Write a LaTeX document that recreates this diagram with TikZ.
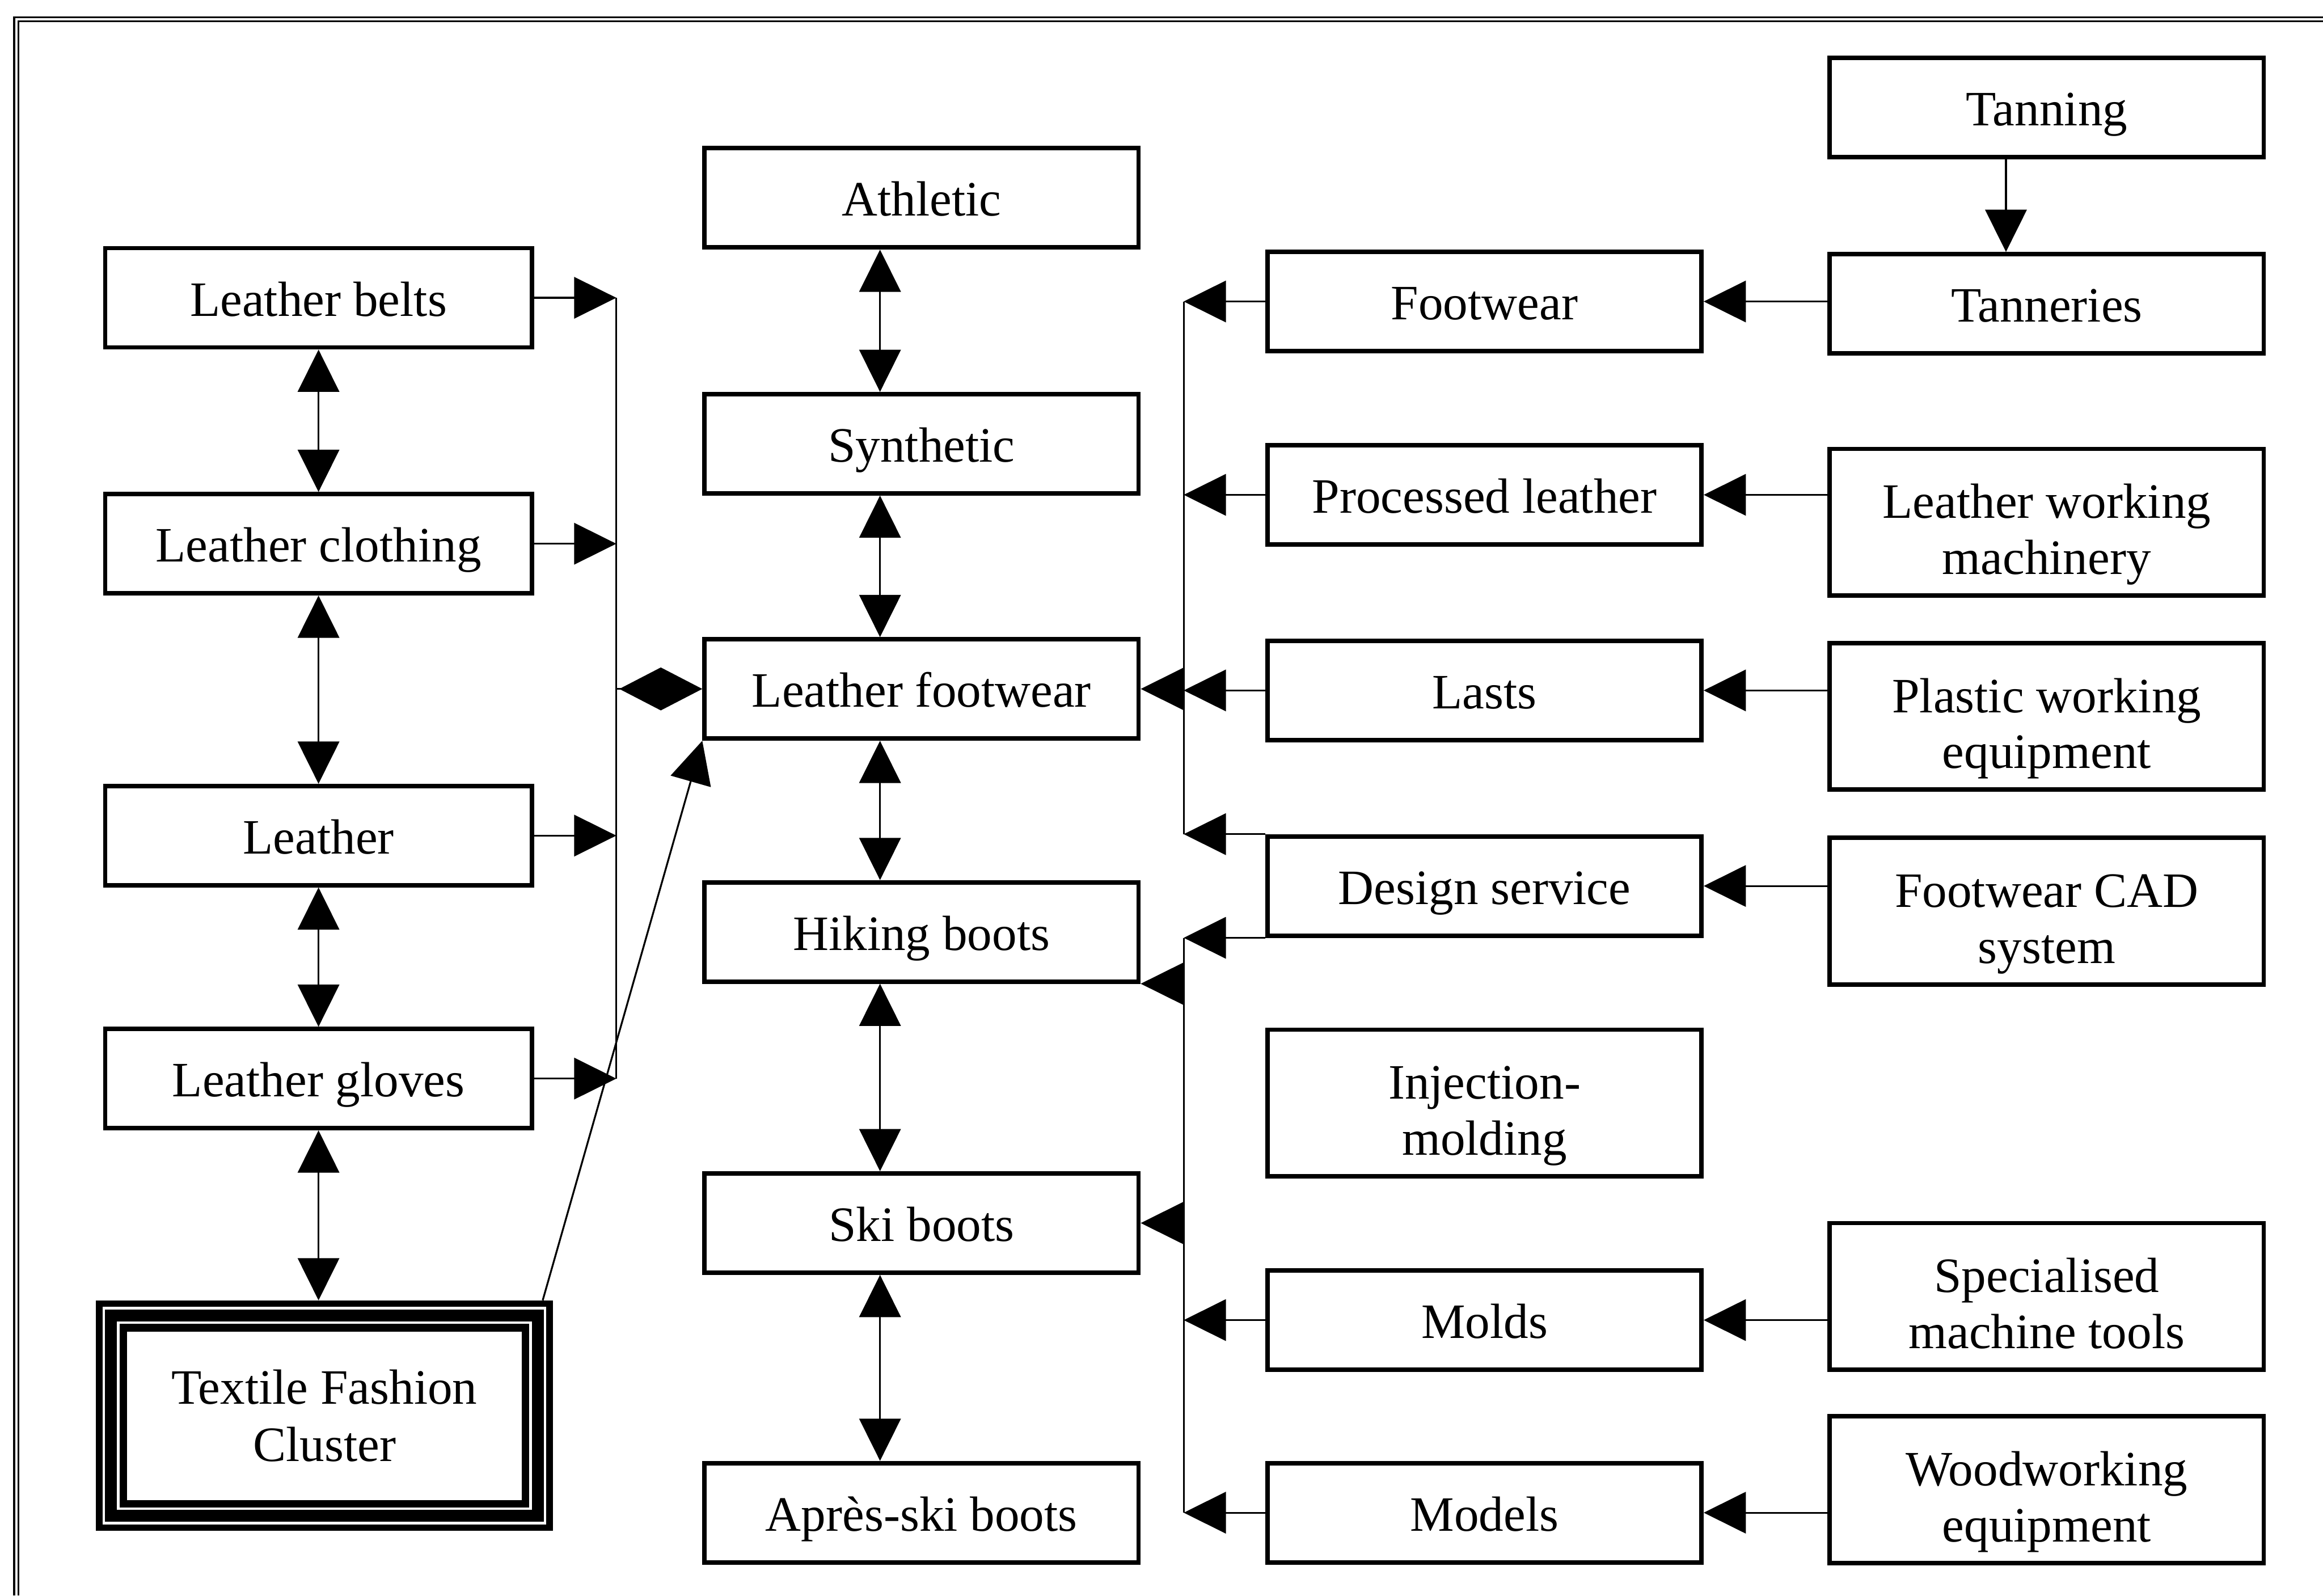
\documentclass[tikz,border=0pt]{standalone}
\usepackage{fontspec}
\setmainfont{Liberation Serif}
\usetikzlibrary{arrows.meta}

\tikzset{
    box/.style={draw, line width=1.7pt, minimum width=5.86cm, minimum height=1.34cm,
        inner sep=2pt, align=center, text height=16pt, text depth=2pt,
        font=\fontsize{19}{22}\selectfont},
    lbox/.style={box, minimum width=5.76cm},
    tallbox/.style={box, minimum height=1.98cm, text height=44pt, text depth=4pt,
        font=\fontsize{19}{21.5}\selectfont},
    link/.style={line width=0.7pt},
    arr/.style={link, -{Triangle[length=5.7mm,width=5.6mm]}},
    biarr/.style={link, {Triangle[length=5.7mm,width=5.6mm]}-{Triangle[length=5.7mm,width=5.6mm]}},
    diam/.style={link, -{Diamond[length=11.2mm,width=5.8mm]}},
}

\begin{document}
\begin{tikzpicture}[x=0.02cm,y=-0.02cm]
    \useasboundingbox (0,0) rectangle (1568,1077);
    \draw[line width=0.7pt, double, double distance=0.9pt] (11,1077) -- (11,13) -- (1568,13);

    % left column
    \node[lbox] (lb) at (215,201) {Leather belts};
    \node[lbox] (lc) at (215,367) {Leather clothing};
    \node[lbox] (le) at (215,564) {Leather};
    \node[lbox] (lg) at (215,728) {Leather gloves};
    \node[minimum width=6.16cm, minimum height=3.1cm, align=center,
        font=\fontsize{19}{22}\selectfont] (tfc) at (219,955.5) {Textile Fashion\\Cluster};
    \draw[line width=0.09cm] ([shift={(0.045cm,0.045cm)}]tfc.south west) rectangle ([shift={(-0.045cm,-0.045cm)}]tfc.north east);
    \draw[line width=0.16cm] ([shift={(0.205cm,0.205cm)}]tfc.south west) rectangle ([shift={(-0.205cm,-0.205cm)}]tfc.north east);
    \draw[line width=0.1cm] ([shift={(0.37cm,0.37cm)}]tfc.south west) rectangle ([shift={(-0.37cm,-0.37cm)}]tfc.north east);

    % footwear column
    \node[box] (at) at (622,133.5) {Athletic};
    \node[box] (sy) at (622,299.5) {Synthetic};
    \node[box] (lf) at (622,465) {Leather footwear};
    \node[box] (hb) at (622,629) {Hiking boots};
    \node[box] (sb) at (622,825.5) {Ski boots};
    \node[box] (ap) at (622,1021) {Après-ski boots};

    % suppliers
    \node[box] (fw) at (1002,203.5) {Footwear};
    \node[box] (pl) at (1002,334) {Processed leather};
    \node[box] (la) at (1002,466) {Lasts};
    \node[box] (ds) at (1002,598) {Design service};
    \node[tallbox] (im) at (1002,744.5) {Injection-\\molding};
    \node[box] (md) at (1002,891) {Molds};
    \node[box] (mo) at (1002,1021) {Models};

    \node[box] (ta) at (1381.5,72.5) {Tanning};
    \node[box] (tn) at (1381.5,205) {Tanneries};
    \node[tallbox] (lw) at (1381.5,352.5) {Leather working\\machinery};
    \node[tallbox] (pw) at (1381.5,483.5) {Plastic working\\equipment};
    \node[tallbox] (cad) at (1381.5,615) {Footwear CAD\\system};
    \node[tallbox] (sm) at (1381.5,875) {Specialised\\machine tools};
    \node[tallbox] (ww) at (1381.5,1005.5) {Woodworking\\equipment};

    \coordinate (jl) at (416,0);
    \coordinate (jm) at (594,0);
    \coordinate (jr) at (799,0);
    \coordinate (jt) at (1354,0);

    % left side
    \draw[biarr] (lb.south) -- (lc.north);
    \draw[biarr] (lc.south) -- (le.north);
    \draw[biarr] (le.south) -- (lg.north);
    \draw[biarr] (lg.south) -- (lg.south |- tfc.north);
    \foreach \n in {lb,lc,le,lg}
        \draw[arr] (\n.east) -- (\n.east -| jl);
    \draw[link] (lb.east -| jl) -- (lg.east -| jl);
    \draw[diam] (lf.west -| jl) -- (lf.west);
    \draw[arr] ([xshift=-0.14cm]tfc.north east) -- (lf.south west);

    % middle
    \draw[biarr] (at.south -| jm) -- (sy.north -| jm);
    \draw[biarr] (sy.south -| jm) -- (lf.north -| jm);
    \draw[biarr] (lf.south -| jm) -- (hb.north -| jm);
    \draw[biarr] (hb.south -| jm) -- (sb.north -| jm);
    \draw[biarr] (sb.south -| jm) -- (ap.north -| jm);

    % right side
    \foreach \n in {fw,pl,la,md,mo}
        \draw[arr] (\n.west) -- (\n.west -| jr);
    \draw[arr] (ds.north west) -- (ds.north west -| jr);
    \draw[arr] (ds.south west) -- (ds.south west -| jr);
    \draw[link] (fw.west -| jr) -- (ds.north west -| jr);
    \draw[link] (ds.south west -| jr) -- (mo.west -| jr);
    \draw[arr] (lf.east -| jr) -- (lf.east);
    \draw[arr] (hb.south east -| jr) -- (hb.south east);
    \draw[arr] (sb.east -| jr) -- (sb.east);

    \draw[arr] (ta.south -| jt) -- (tn.north -| jt);
    \foreach \s/\t in {tn/fw,lw/pl,pw/la,cad/ds,sm/md,ww/mo}
        \draw[arr] (\s.west |- \t.east) -- (\t.east);
\end{tikzpicture}
\end{document}
